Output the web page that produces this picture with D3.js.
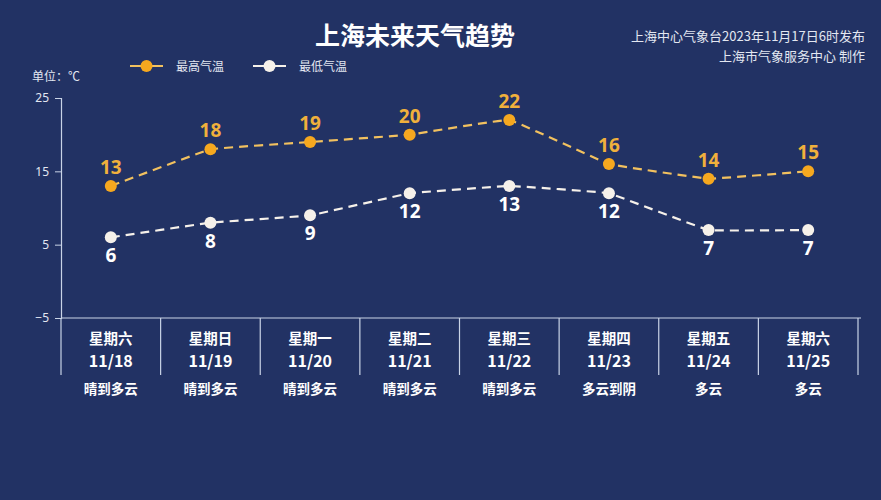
<!DOCTYPE html>
<html><head><meta charset="utf-8">
<script src="https://cdn.jsdelivr.net/npm/d3@7"></script>
<style>
html,body{margin:0;padding:0;background:#223264;}
svg{display:block;font-family:"Noto Sans CJK SC","Noto Sans",sans-serif;}
</style></head>
<body>
<svg id="chart" width="881" height="500"></svg>
<script>
const weekdays = ["星期六","星期日","星期一","星期二","星期三","星期四","星期五","星期六"];
const dates = ["11/18","11/19","11/20","11/21","11/22","11/23","11/24","11/25"];
const weather = ["晴到多云","晴到多云","晴到多云","晴到多云","晴到多云","多云到阴","多云","多云"];
const highTemps = [13,18,19,20,22,16,14,15];
const lowTemps = [6,8,9,12,13,12,7,7];
const yTicks = [-5,5,15,25];
const seriesNames = ["最高气温","最低气温"];

const W = 881, H = 500;
const svg = d3.select("#chart");
svg.append("rect").attr("width",W).attr("height",H).attr("fill","#223264");

const x = d3.scaleBand().domain(dates).range([61,858]);
const y = d3.scaleLinear().domain([-5,25]).range([318,98]);
const axisColor = "#c9d3e6";
const orange = "#f6a81f";
const orangeLine = "#f2c15f";
const orangeText = "#f0b03c";
const white = "#f6f1ea";

// Title
svg.append("text").attr("x",415).attr("y",45).attr("text-anchor","middle")
  .attr("fill","#ffffff").attr("font-size",25).attr("font-weight","bold").text("上海未来天气趋势");
svg.append("text").attr("x",865).attr("y",41).attr("text-anchor","end")
  .attr("fill","#e3e7f1").attr("font-size",13).text("上海中心气象台2023年11月17日6时发布");
svg.append("text").attr("x",865).attr("y",61).attr("text-anchor","end")
  .attr("fill","#e3e7f1").attr("font-size",13).text("上海市气象服务中心 制作");
svg.append("text").attr("x",32).attr("y",81)
  .attr("fill","#e3e7f1").attr("font-size",12).text("单位：℃");

// Legend
const legend = [{name:seriesNames[0],color:orange,line:orangeLine,x:130},{name:seriesNames[1],color:white,line:white,x:253}];
legend.forEach(l=>{
  const g = svg.append("g");
  g.append("line").attr("x1",l.x).attr("x2",l.x+33).attr("y1",66).attr("y2",66).attr("stroke",l.line).attr("stroke-width",2);
  g.append("circle").attr("cx",l.x+16.5).attr("cy",66).attr("r",6).attr("fill",l.color);
  g.append("text").attr("x",l.x+46).attr("y",71).attr("fill","#e3e7f1").attr("font-size",12).text(l.name);
});

// Y axis
const yAxis = d3.axisLeft(y).tickValues(yTicks).tickSize(6).tickPadding(6);
const yg = svg.append("g").attr("transform","translate(61,0)").call(yAxis);
yg.select(".domain").attr("stroke",axisColor).attr("stroke-width",1.2);
yg.selectAll(".tick line").attr("stroke",axisColor);
yg.selectAll(".tick text").attr("fill","#e3e7f1").attr("font-size",12).attr("font-family","'Noto Sans',sans-serif");

// X axis line
svg.append("line").attr("x1",61).attr("x2",861).attr("y1",y(-5)).attr("y2",y(-5)).attr("stroke",axisColor).attr("stroke-width",1.2);
// band separators
const seps = dates.map(d=>x(d)).concat([x(dates[dates.length-1])+x.bandwidth()]);
svg.selectAll(".sep").data(seps).enter().append("line")
  .attr("x1",d=>d).attr("x2",d=>d).attr("y1",y(-5)).attr("y2",375)
  .attr("stroke",axisColor).attr("stroke-width",1.2);

const cx = d=>x(d)+x.bandwidth()/2;
const catG = svg.append("g");
dates.forEach((d,i)=>{
  catG.append("text").attr("x",cx(d)).attr("y",344).attr("text-anchor","middle")
    .attr("fill","#ffffff").attr("font-size",14.5).attr("font-weight","bold").text(weekdays[i]);
  catG.append("text").attr("x",cx(d)).attr("y",367).attr("text-anchor","middle")
    .attr("fill","#ffffff").attr("font-size",16).attr("font-weight","bold").text(d);
  catG.append("text").attr("x",cx(d)).attr("y",394).attr("text-anchor","middle")
    .attr("fill","#ffffff").attr("font-size",13.5).attr("font-weight","bold").text(weather[i]);
});

// Lines
const line = d3.line().x((v,i)=>cx(dates[i])).y(v=>y(v)).curve(d3.curveCardinal.tension(0.82));
svg.append("path").attr("d",line(highTemps)).attr("fill","none").attr("stroke",orangeLine)
  .attr("stroke-width",2.2).attr("stroke-dasharray","9,6");
svg.append("path").attr("d",line(lowTemps)).attr("fill","none").attr("stroke",white)
  .attr("stroke-width",2.2).attr("stroke-dasharray","9,6");

svg.selectAll(".hi").data(highTemps).enter().append("circle")
  .attr("cx",(v,i)=>cx(dates[i])).attr("cy",v=>y(v)).attr("r",6).attr("fill",orange);
svg.selectAll(".lo").data(lowTemps).enter().append("circle")
  .attr("cx",(v,i)=>cx(dates[i])).attr("cy",v=>y(v)).attr("r",6).attr("fill",white);

svg.selectAll(".hil").data(highTemps).enter().append("text")
  .attr("x",(v,i)=>cx(dates[i])).attr("y",v=>y(v)-12).attr("text-anchor","middle")
  .attr("fill",orangeText).attr("font-size",19).attr("font-weight","bold")
  .attr("font-family","'Noto Sans',sans-serif").text(v=>v);
svg.selectAll(".lol").data(lowTemps).enter().append("text")
  .attr("x",(v,i)=>cx(dates[i])).attr("y",v=>y(v)+25).attr("text-anchor","middle")
  .attr("fill","#ffffff").attr("font-size",19).attr("font-weight","bold")
  .attr("font-family","'Noto Sans',sans-serif").text(v=>v);
</script>
</body></html>
